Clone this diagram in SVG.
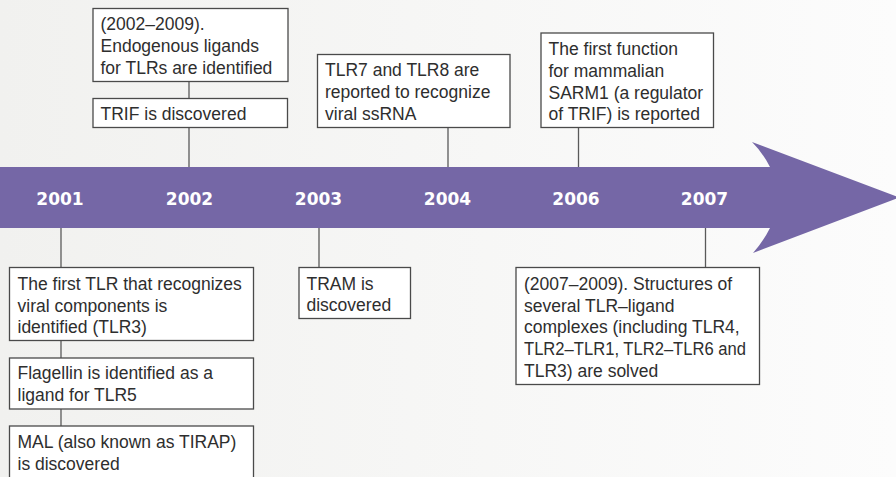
<svg xmlns="http://www.w3.org/2000/svg" width="896" height="477" viewBox="0 0 896 477">
<defs>
<linearGradient id="bg" x1="0" y1="0" x2="1" y2="0">
<stop offset="0" stop-color="#f1f1ef"/>
<stop offset="1" stop-color="#fcfcfc"/>
</linearGradient>
<style>
.box{fill:#ffffff;stroke:#4a4a4a;stroke-width:1.3}
.t{font-family:"Liberation Sans",Arial,sans-serif;font-size:17.5px;fill:#2e2e2e}
.yr{font-family:"DejaVu Sans",sans-serif;font-weight:bold;font-size:17px;fill:#ffffff;text-anchor:middle}
.c{stroke:#5a5a5a;stroke-width:1.3;fill:none}
</style>
</defs>
<rect x="0" y="0" width="896" height="477" fill="url(#bg)"/>
<path id="timeline" d="M0,167 L770,167 Q763,153 752,142 L899,197.5 L753,253 Q763,242 770,228 L0,228 Z" fill="#7567a6"/>
<g id="years">
<text class="yr" x="60" y="205">2001</text>
<text class="yr" x="189.5" y="205">2002</text>
<text class="yr" x="318.5" y="205">2003</text>
<text class="yr" x="447.5" y="205">2004</text>
<text class="yr" x="576" y="205">2006</text>
<text class="yr" x="704.5" y="205">2007</text>
</g>
<g id="connectors">
<line class="c" x1="189" y1="82" x2="189" y2="98"/>
<line class="c" x1="189" y1="128" x2="189" y2="167"/>
<line class="c" x1="448" y1="128" x2="448" y2="167"/>
<line class="c" x1="578.5" y1="128" x2="578.5" y2="167"/>
<line class="c" x1="61" y1="228" x2="61" y2="267"/>
<line class="c" x1="61" y1="340" x2="61" y2="358"/>
<line class="c" x1="61" y1="409" x2="61" y2="426"/>
<line class="c" x1="319" y1="228" x2="319" y2="267"/>
<line class="c" x1="705.5" y1="228" x2="705.5" y2="267"/>
</g>
<g id="n-endogenous">
<rect class="box" x="93" y="8.5" width="195" height="73"/>
<text class="t" x="100.5" y="29.5">(2002–2009).</text>
<text class="t" x="100.5" y="51.5">Endogenous ligands</text>
<text class="t" x="100.5" y="73.5">for TLRs are identified</text>
</g>
<g id="n-trif">
<rect class="box" x="93" y="98.5" width="194.5" height="29"/>
<text class="t" x="100.5" y="120">TRIF is discovered</text>
</g>
<g id="n-tlr78">
<rect class="box" x="317.5" y="54.5" width="192.5" height="73"/>
<text class="t" x="325" y="76">TLR7 and TLR8 are</text>
<text class="t" x="325" y="98">reported to recognize</text>
<text class="t" x="325" y="120">viral ssRNA</text>
</g>
<g id="n-sarm1">
<rect class="box" x="541" y="33" width="172.5" height="94.5"/>
<text class="t" x="548.5" y="55">The first function</text>
<text class="t" x="548.5" y="76.5">for mammalian</text>
<text class="t" x="548.5" y="98.5">SARM1 (a regulator</text>
<text class="t" x="548.5" y="120">of TRIF) is reported</text>
</g>
<g id="n-tlr3">
<rect class="box" x="9.5" y="267.5" width="244" height="73"/>
<text class="t" x="17.5" y="290">The first TLR that recognizes</text>
<text class="t" x="17.5" y="311.5">viral components is</text>
<text class="t" x="17.5" y="333">identified (TLR3)</text>
</g>
<g id="n-flagellin">
<rect class="box" x="9.5" y="358" width="244" height="51"/>
<text class="t" x="17.5" y="379">Flagellin is identified as a</text>
<text class="t" x="17.5" y="400.5">ligand for TLR5</text>
</g>
<g id="n-mal">
<rect class="box" x="9.5" y="426" width="244" height="56"/>
<text class="t" x="17.5" y="448">MAL (also known as TIRAP)</text>
<text class="t" x="17.5" y="469.5">is discovered</text>
</g>
<g id="n-tram">
<rect class="box" x="299" y="267.5" width="111.5" height="51"/>
<text class="t" x="306.5" y="290">TRAM is</text>
<text class="t" x="306.5" y="311">discovered</text>
</g>
<g id="n-structures">
<rect class="box" x="516" y="267.5" width="243.5" height="117"/>
<text class="t" x="524" y="290">(2007–2009). Structures of</text>
<text class="t" x="524" y="311.5">several TLR–ligand</text>
<text class="t" x="524" y="333">complexes (including TLR4,</text>
<text class="t" x="524" y="355" textLength="222" lengthAdjust="spacingAndGlyphs">TLR2–TLR1, TLR2–TLR6 and</text>
<text class="t" x="524" y="376.5">TLR3) are solved</text>
</g>
</svg>
